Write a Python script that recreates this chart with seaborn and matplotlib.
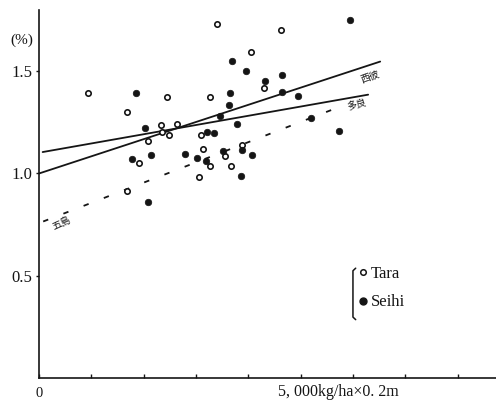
import matplotlib
matplotlib.use("Agg")
import matplotlib.pyplot as plt
from matplotlib.lines import Line2D
import seaborn as sns
import pandas as pd

# --- values (x: 1,000 kg/ha x 0.2m, y: %) ---
tara_x = [0.94, 2.45, 3.27, 3.41, 1.69, 4.05, 4.63, 4.30, 2.33, 2.36, 2.64,
          2.49, 2.09, 3.09, 1.92, 3.14, 3.27, 3.56, 3.67, 3.06, 1.68, 3.87]
tara_y = [1.396, 1.375, 1.375, 1.733, 1.303, 1.595, 1.701, 1.421, 1.235, 1.202, 1.240,
          1.189, 1.160, 1.188, 1.049, 1.122, 1.038, 1.087, 1.038, 0.982, 0.912, 1.141]

seihi_x = [1.85, 3.65, 3.63, 5.94, 3.69, 3.95, 4.64, 4.32, 4.64, 4.94, 2.03, 3.46, 3.21, 3.35,
           1.77, 2.14, 2.79, 3.01, 3.19, 3.51, 2.08, 3.78, 5.20, 5.73, 3.87, 4.08, 3.86]
seihi_y = [1.393, 1.396, 1.333, 1.750, 1.553, 1.502, 1.484, 1.453, 1.401, 1.381, 1.222, 1.282,
           1.202, 1.200, 1.072, 1.090, 1.097, 1.078, 1.059, 1.112, 0.860, 1.241, 1.270, 1.210,
           1.116, 1.090, 0.988]

# regression lines (end points) and their labels
line_names = ["西彼", "多良", "五島"]
line_x0 = [0.0, 0.07, 0.08]
line_x1 = [6.52, 6.29, 5.66]
line_y0 = [1.000, 1.105, 0.765]
line_y1 = [1.548, 1.386, 1.318]

y_ticks = [0.5, 1.0, 1.5]
y_tick_labels = ["0.5", "1.0", "1.5"]
x_ticks = [0, 1, 2, 3, 4, 5, 6, 7, 8]

sns.set_style("ticks")
plt.rcParams["font.family"] = ["Liberation Serif", "Noto Sans CJK JP", "DejaVu Sans"]
ink = "#151515"

pts = pd.concat([
    pd.DataFrame({"x": tara_x, "y": tara_y, "group": "Tara"}),
    pd.DataFrame({"x": seihi_x, "y": seihi_y, "group": "Seihi"}),
])
lines = pd.DataFrame({
    "name": line_names * 2,
    "x": line_x0 + line_x1,
    "y": line_y0 + line_y1,
})

fig = plt.figure(figsize=(4.96, 4.04), dpi=100)
ax = fig.add_axes([0.0786, 0.065, 0.9214, 0.910])

# --- regression lines ---
styles = {"西彼": "-", "多良": "-", "五島": (0, (3, 9))}
for name in line_names:
    sns.lineplot(data=lines[lines["name"] == name], x="x", y="y", ax=ax,
                 color=ink, linewidth=1.3, linestyle=styles[name],
                 estimator=None, sort=False, legend=False)

# --- points ---
sns.scatterplot(data=pts[pts["group"] == "Tara"], x="x", y="y", ax=ax,
                marker="o", s=15, color="white", edgecolor=ink, linewidth=1.2,
                legend=False, zorder=3)
sns.scatterplot(data=pts[pts["group"] == "Seihi"], x="x", y="y", ax=ax,
                marker="o", s=22, color=ink, edgecolor=ink, linewidth=0.5,
                legend=False, zorder=3)

# line labels
cjk = ["Noto Sans CJK JP"]
ax.text(6.33, 1.474, "西彼", fontsize=7, rotation=20, ha="center", va="center",
        family=cjk, color=ink)
ax.text(6.08, 1.337, "多良", fontsize=7, rotation=15, ha="center", va="center",
        family=cjk, color=ink)
ax.text(0.44, 0.755, "五島", fontsize=7, rotation=25, ha="center", va="center",
        family=cjk, color=ink)

# --- axes ---
ax.set_xlim(0, 8.733)
ax.set_ylim(0, 1.80)
ax.set_xlabel("")
ax.set_ylabel("")
sns.despine(ax=ax)
for side in ("left", "bottom"):
    ax.spines[side].set_color(ink)
    ax.spines[side].set_linewidth(1.2)

ax.set_yticks(y_ticks)
ax.set_yticklabels(y_tick_labels, fontsize=12)
ax.set_xticks(x_ticks)
ax.set_xticklabels(["0"] + [""] * 8, fontsize=10.5)
ax.tick_params(axis="y", direction="out", length=2.5, width=1, pad=2, colors=ink)
ax.tick_params(axis="x", direction="in", length=3, width=1, pad=7, colors=ink)

ax.text(-0.037, 0.918, "(%)", transform=ax.transAxes, ha="center", va="center",
        fontsize=11, color=ink)
ax.text(4.567, -0.039, "5, 000kg/ha×0. 2m", transform=ax.get_xaxis_transform(),
        ha="left", va="center", fontsize=11.5, color=ink)

# --- legend with bracket ---
handles = [
    Line2D([], [], marker="o", linestyle="", markersize=4, markerfacecolor="white",
           markeredgecolor=ink, markeredgewidth=1.1),
    Line2D([], [], marker="o", linestyle="", markersize=5, markerfacecolor=ink,
           markeredgecolor=ink),
]
leg = ax.legend(handles, ["Tara", "Seihi"], loc="upper left", bbox_to_anchor=(0.697, 0.304),
                frameon=False, borderpad=0, borderaxespad=0, handlelength=0.6,
                handletextpad=0.2, labelspacing=0.75, prop={"size": 12})
for t in leg.get_texts():
    t.set_color(ink)
ax.plot([0.693, 0.687, 0.687, 0.693], [0.298, 0.291, 0.165, 0.158],
        transform=ax.transAxes, color=ink, linewidth=1.1, clip_on=False)

fig.savefig("out.png", dpi=100, facecolor="white")
